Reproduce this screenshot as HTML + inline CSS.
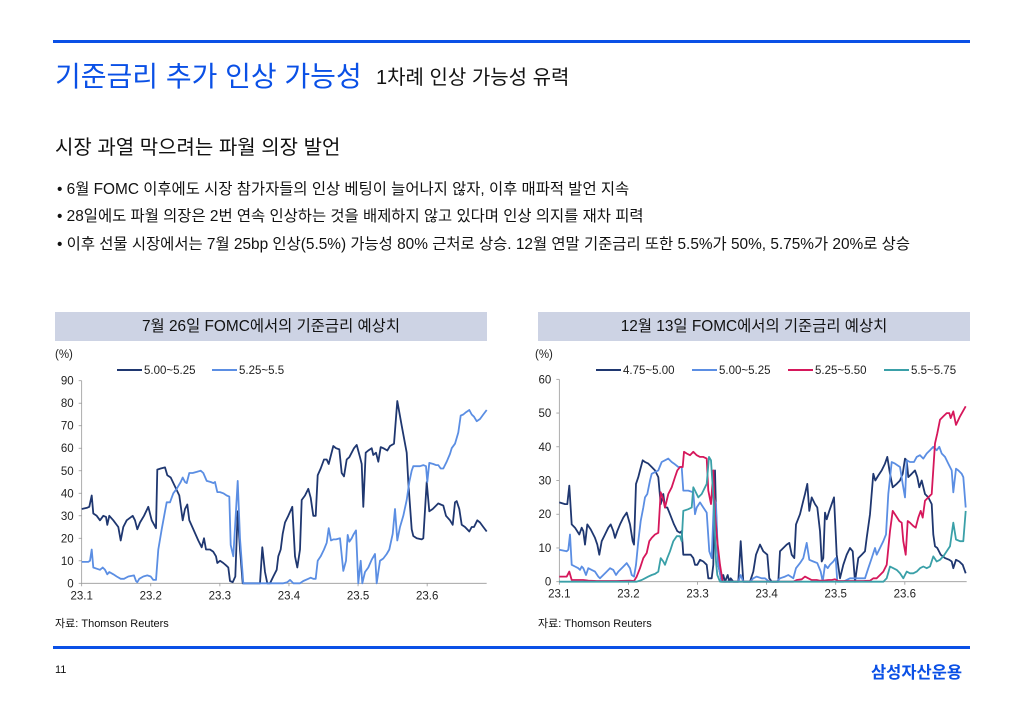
<!DOCTYPE html>
<html><head><meta charset="utf-8"><style>
body{margin:0;width:1024px;height:709px;background:#fff;position:relative;overflow:hidden;font-family:"Liberation Sans","Noto Sans CJK KR",sans-serif;color:#111}
.a{position:absolute;white-space:nowrap}
.bar{position:absolute;left:53px;width:917px;height:3px;background:#0a50e6}
</style></head><body>
<div class="bar" style="top:40px"></div>
<div class="bar" style="top:646px"></div>
<div class="a" style="left:55px;top:55px;font-size:28px;color:#0a50e6">기준금리 추가 인상 가능성</div>
<div class="a" style="left:376px;top:61px;font-size:20px">1차례 인상 가능성 유력</div>
<div class="a" style="left:55px;top:131px;font-size:20px">시장 과열 막으려는 파월 의장 발언</div>
<div class="a" style="left:57px;top:177px;font-size:15.4px">• 6월 FOMC 이후에도 시장 참가자들의 인상 베팅이 늘어나지 않자, 이후 매파적 발언 지속</div>
<div class="a" style="left:57px;top:204px;font-size:15.4px">• 28일에도 파월 의장은 2번 연속 인상하는 것을 배제하지 않고 있다며 인상 의지를 재차 피력</div>
<div class="a" style="left:57px;top:232px;font-size:15.4px">• 이후 선물 시장에서는 7월 25bp 인상(5.5%) 가능성 80% 근처로 상승. 12월 연말 기준금리 또한 5.5%가 50%, 5.75%가 20%로 상승</div>
<div class="a" style="left:55px;top:312px;width:432px;height:29px;background:#cdd3e4;font-size:15.4px;text-align:center;line-height:29px">7월 26일 FOMC에서의 기준금리 예상치</div>
<div class="a" style="left:538px;top:312px;width:432px;height:29px;background:#cdd3e4;font-size:15.4px;text-align:center;line-height:29px">12월 13일 FOMC에서의 기준금리 예상치</div>
<div class="a" style="left:55px;top:615px;font-size:11px">자료: Thomson Reuters</div>
<div class="a" style="left:538px;top:615px;font-size:11px">자료: Thomson Reuters</div>
<div class="a" style="left:55px;top:664px;font-size:11px">11</div>
<div class="a" style="left:871px;top:659px;font-size:16.5px;color:#0a50e6;font-weight:bold">삼성자산운용</div>
<svg id="s" width="1024" height="709" style="position:absolute;left:0;top:0" font-family="Liberation Sans, sans-serif" font-size="11.5" fill="#222"></svg>
<script>
var s=document.getElementById('s'),h='';
function chart(ox,oy,ax,y0,unit,max,step,data,cols,labels,lx){
 var X0=ox+ax/3;
 h+='<line x1="'+X0+'" y1="'+(y0-max*unit)+'" x2="'+X0+'" y2="'+y0+'" stroke="#999" stroke-width="0.8"/>';
 h+='<line x1="'+X0+'" y1="'+y0+'" x2="'+(ox+1310/3)+'" y2="'+y0+'" stroke="#999" stroke-width="0.8"/>';
 for(var v=0;v<=max;v+=step){var y=y0-v*unit;h+='<line x1="'+(X0-3)+'" y1="'+y+'" x2="'+X0+'" y2="'+y+'" stroke="#999" stroke-width="0.8"/><text x="'+(X0-8)+'" y="'+(y+4)+'" text-anchor="end">'+v+'</text>';}
 h+='<text x="'+(ox+5)+'" y="'+(oy+18)+'">(%)</text>';
 var xl=['23.1','23.2','23.3','23.4','23.5','23.6'];
 for(var i=0;i<6;i++){var x=X0+i*69.1;h+='<line x1="'+x+'" y1="'+y0+'" x2="'+x+'" y2="'+(y0+3)+'" stroke="#999" stroke-width="0.8"/><text x="'+x+'" y="'+(y0+16)+'" text-anchor="middle">'+xl[i]+'</text>';}
 data.forEach(function(d,k){var p=[];for(var i=0;i<d.length;i+=2)p.push((ox+d[i]/3).toFixed(1)+','+(y0-d[i+1]*unit).toFixed(1));
  h+='<polyline points="'+p.join(' ')+'" fill="none" stroke="'+cols[k]+'" stroke-width="1.8" stroke-linejoin="round"/>';
  var lxx=lx[k];h+='<line x1="'+lxx+'" y1="'+(oy+30)+'" x2="'+(lxx+25)+'" y2="'+(oy+30)+'" stroke="'+cols[k]+'" stroke-width="2"/><text x="'+(lxx+27)+'" y="'+(oy+34)+'">'+labels[k]+'</text>';});
}
var L1=[95,33,110,33.5,118,34,125,39,130,31,140,30,150,28,160,30,168,29.5,172,26,178,30,190,28,205,25,212,19,220,25,230,28,248,30,255,28,262,24,270,27,282,30,295,34,305,28,318,24.5,322,50.5,332,51,345,51.5,352,48,362,47,375,43,388,39,398,28,405,33,412,35,418,28,430,24,445,19,455,16,462,20,468,15,480,15,490,14,498,12,502,9,510,10,520,9,528,8,535,7,540,1,548,0.5,556,3,563,32,570,15,578,0,630,0,637,16,645,5,652,0,660,0,670,3,680,6,685,12,692,15,698,22,705,27,715,30,727,34,735,12,742,7,750,15,755,37,765,39,775,42,782,38,790,30,797,30,803,48,812,51,822,55,830,55,836,53,843,57,850,61,858,60,868,59.5,875,49,882,47.5,890,55,898,56,912,60,920,61.5,930,56,935,53,940,34,947,58,955,59,965,60,970,57,978,58,985,54,992,60.5,1000,60,1012,59,1020,61,1032,62,1042,81,1055,70,1070,58,1075,45,1085,24,1090,21,1100,20,1115,19.5,1120,20,1130,45,1138,32,1148,33,1165,35.5,1172,35,1180,34.5,1188,30,1200,28,1208,26,1215,36,1220,36.5,1228,33,1235,26,1245,25,1258,23,1265,25,1272,25,1282,28,1290,27,1300,25,1310,23];
var L2=[95,9.5,115,9.5,120,10,125,15,130,7,140,6.5,150,6,158,7,165,6,172,4,178,5,190,4,200,3,212,2,222,2,235,3,252,3.5,258,1,262,0.5,268,2,280,3,292,3.5,302,3,310,1.5,318,1.5,325,15,335,24,345,32,350,36,360,36,370,40,380,42,392,45,398,47,405,45,410,44.5,418,49,428,49,440,49.5,452,50,460,49,470,45.5,482,45,490,44.5,495,45,502,40.5,510,40.5,520,40,530,39,538,38.5,542,17,550,12,557,30,563,45.5,570,20,580,0,700,0,712,0.5,720,1.5,730,0,750,0,760,1,775,2,782,2.5,790,2,797,2,803,10,812,12,822,15,830,18,836,24.5,843,19,850,19.5,858,19.5,870,20,880,5.5,888,10,893,21.5,898,18.5,905,20,910,21.5,918,23.5,925,0,932,10,937,0,945,5,955,7,965,10.5,975,13,980,0,990,10,1000,11,1010,13,1018,15,1028,22,1035,33,1042,19,1050,25,1060,30,1070,37,1078,45,1085,50,1090,52,1100,52,1110,52,1120,52.5,1128,52,1132,45,1138,53.5,1150,53,1158,52.5,1165,52.5,1172,51,1180,51,1190,54,1200,57.5,1205,60,1215,62,1225,67,1232,74.5,1240,75,1248,76,1258,77,1265,75,1272,74,1280,72,1290,73,1300,75,1310,77];
chart(50,340,95,583.3,2.251,90,10,[L1,L2],['#1f3770','#5b8ee3'],['5.00~5.25','5.25~5.5'],[117,212]);
var R1=[88,23.5,105,23,112,23,118,28.5,125,17,135,16,148,14,155,16,160,15,165,11,172,17,182,15.5,195,13,202,11,208,8,215,12,225,14,235,16,242,17,250,15,255,13,262,15,270,17,280,19,290,20.5,300,17,308,12,312,11,318,29,325,31,330,33,338,36,345,35.5,355,35,365,34,375,33,385,31,392,23,400,26,405,22,412,22,420,20,432,17,442,15,450,14.5,455,15,460,8,475,8,482,8,490,7,495,5,502,5,510,6.5,520,6,530,5,535,1,545,1,550,5,555,33,558,21,565,5,575,0,580,2,585,0,593,2,598,0,602,1,610,0,625,0,632,12,640,0,660,0,670,3,678,8,690,11,700,9,712,8,718,1,725,0,735,0,745,0,750,9,760,10,770,11,778,11.5,785,8,793,7,798,17,810,20,820,24,825,26,832,29,838,21,845,25,855,23,862,22,870,15,875,6,880,7,885,20.5,890,18.5,898,21,905,23,912,25,920,8,930,1,940,5,950,8,960,10,968,9,975,0,985,7,995,8,1005,9,1010,13,1020,20,1030,32,1036,30,1045,31.5,1055,33,1065,35,1072,37,1080,32,1088,28,1100,29,1110,30,1118,32,1125,36.5,1130,36,1135,31,1145,32,1155,33,1162,31,1168,28,1175,30,1185,26,1195,25,1205,23,1210,14,1215,10.5,1222,10,1232,8,1245,7,1258,6.5,1265,6,1270,4,1278,6.5,1288,6,1298,5,1307,2.5];
var R2=[88,9.5,110,9,115,9.5,120,14,125,5,135,4.5,145,4,150,3.5,155,4.5,160,4,168,2,175,4,185,3.5,195,3,205,1.5,210,1,220,2,230,3,240,4,250,3.5,258,2,265,3,275,4,290,5.5,300,4,305,2,312,1.5,318,5,325,12,332,18,340,22,345,25,352,26,360,30,365,32,375,32.5,385,33,395,35.5,405,36,415,36.5,425,35.5,432,35,445,34,455,34,460,27,475,27,490,26.5,495,20,500,22,510,23.5,520,22,530,20.5,538,9,545,7,552,25,558,23,565,5,575,0,625,0,632,2,640,0,660,0,670,1,680,1.5,695,1,705,1,718,0,740,0,750,1,765,1.5,775,2,790,1,798,4,810,5.5,820,7,830,11.5,838,6.5,850,6,862,5.5,872,3,878,0,885,5,893,4,900,5,910,6,917,7,922,0,940,0,960,1,975,1,990,1,1005,1,1015,4,1025,7,1035,10,1040,8,1050,10,1060,12,1068,14,1075,26,1085,35.5,1095,35,1110,34,1118,29,1125,25,1130,36,1140,35.5,1152,35.5,1160,37,1170,37.5,1180,36.5,1190,38,1200,39,1210,40,1220,39,1228,40,1235,38,1245,37,1255,35,1265,33,1270,26.5,1278,33.5,1285,33,1295,32,1300,31,1307,22];
var R3=[88,1.5,110,1.5,118,3,125,0.5,160,0.5,175,0.3,200,0.2,260,0.2,300,0.3,312,0.2,320,1.5,330,4,340,7,350,8.5,358,12,365,13,375,14,385,14.5,392,26.5,398,25,405,22,415,26,425,28,435,31,442,33,450,34,458,34,462,38.5,470,38,480,37.5,490,38.5,500,37.5,510,37,520,37,530,36.5,535,27,543,23,550,33,555,20,562,12,570,5,578,0,790,0,800,0.5,815,0.7,825,1.5,835,1,845,0.5,860,0.5,870,0.3,880,0.3,895,0.5,905,0.5,915,0.7,925,0.2,1000,0.2,1020,0.3,1030,1,1040,1,1050,2,1060,3,1070,5,1080,15,1088,21,1098,19.5,1108,18,1115,17.5,1120,12,1127,8,1133,18,1140,17.5,1150,16.5,1157,16,1165,19,1172,21,1178,19,1185,24,1195,25,1205,26,1215,41,1222,44,1230,48,1240,49,1250,50,1258,50,1262,48.5,1270,50.5,1278,46.5,1290,49,1307,52];
var R4=[88,0,320,0,335,0.5,345,1,355,1.5,365,2,375,2.3,385,3,392,7,400,6,405,5,412,7,420,9,430,12,440,13.5,450,13.5,455,12,460,21,475,21.5,485,22,490,28,495,27,505,25,515,26,525,28,530,29,537,37,543,36,552,22,558,6,562,2,570,0,1060,0,1070,1,1080,4.5,1090,4,1100,3.5,1110,2.5,1120,1,1130,3,1140,2.5,1150,2.5,1160,3,1170,4,1180,4.5,1190,4,1200,4.5,1210,7.5,1220,6,1230,6.5,1240,7.5,1250,9,1260,10.5,1270,17.5,1278,12.5,1290,12,1300,12,1307,21];
chart(530,340,88,581.7,3.373,60,10,[R1,R2,R3,R4],['#1f3770','#5b8ee3','#d6175b','#3aa0a8'],['4.75~5.00','5.00~5.25','5.25~5.50','5.5~5.75'],[596,692,788,884]);
s.innerHTML=h;
</script>
</body></html>
